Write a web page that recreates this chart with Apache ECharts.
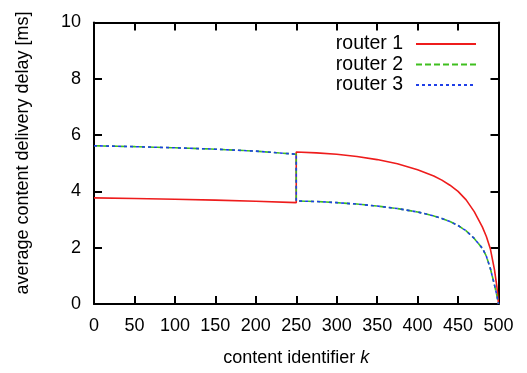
<!DOCTYPE html>
<html>
<head>
<meta charset="utf-8">
<script src="https://cdn.jsdelivr.net/npm/echarts@6/dist/echarts.min.js"></script>
<style>
  html, body { margin: 0; padding: 0; background: #fff; }
  #chart { width: 527px; height: 373px; }
</style>
</head>
<body>
<div id="chart"></div>
<script>
// Content identifiers before and after the split point at k = 250
const kLeft = [0, 50, 100, 150, 200, 250];
const kRight = [250, 275, 300, 325, 350, 375, 400, 420, 430, 440, 450, 460, 470, 480, 485, 490, 495, 498, 500];

// Average delivery delay [ms] per router
const router1Left = [3.77, 3.75, 3.72, 3.69, 3.65, 3.60];
const router1Right = [5.40, 5.37, 5.32, 5.24, 5.13, 4.98, 4.77, 4.55, 4.40, 4.22, 4.00, 3.70, 3.28, 2.74, 2.40, 1.95, 1.22, 0.62, 0];
const router2Left = [5.62, 5.59, 5.55, 5.50, 5.43, 5.32];
const router2Right = [3.66, 3.64, 3.60, 3.55, 3.48, 3.39, 3.27, 3.13, 3.04, 2.93, 2.79, 2.60, 2.33, 1.98, 1.70, 1.25, 0.68, 0.30, 0];
const router3Left = [5.62, 5.59, 5.55, 5.50, 5.43, 5.32];
const router3Right = [3.66, 3.64, 3.60, 3.55, 3.48, 3.39, 3.27, 3.13, 3.04, 2.93, 2.79, 2.60, 2.33, 1.98, 1.70, 1.25, 0.68, 0.30, 0];

const seriesNames = ['router 1', 'router 2', 'router 3'];
const xTicks = { min: 0, max: 500, step: 50 };
const yTicks = { min: 0, max: 10, step: 2 };

function pairs(ks, vs) { return ks.map((k, i) => [k, vs[i]]); }

const FONT = '"Liberation Sans", Arial, Helvetica, sans-serif';
const INK = '#000';

const chart = echarts.init(document.getElementById('chart'), null, { renderer: 'canvas' });

function axisBase(show, margin) {
  return {
    axisLine: { show: true, onZero: false, lineStyle: { color: INK, width: 2 } },
    axisTick: { show: true, inside: true, length: 8, lineStyle: { color: INK, width: 2 } },
    splitLine: { show: false },
    axisLabel: { show: show, margin: margin, color: INK, fontFamily: FONT, fontSize: 18 }
  };
}

const option = {
  animation: false,
  backgroundColor: '#fff',
  textStyle: { fontFamily: FONT },
  grid: { left: 94, right: 28.5, top: 22.5, bottom: 69, containLabel: false },
  legend: {
    data: seriesNames,
    orient: 'vertical',
    right: 45,
    top: 29,
    align: 'right',
    itemWidth: 60,
    itemHeight: 18,
    itemGap: 0.5,
    itemStyle: { opacity: 0 },
    textStyle: { color: INK, fontFamily: FONT, fontSize: 19.5, lineHeight: 18, padding: [0, 8, 0, 0] }
  },
  xAxis: [
    Object.assign(axisBase(true, 13), {
      type: 'value', position: 'bottom',
      min: xTicks.min, max: xTicks.max, interval: xTicks.step,
      name: '{t|content identifier }{i|k}',
      nameLocation: 'middle', nameGap: 45,
      nameTextStyle: {
        rich: {
          t: { fontFamily: FONT, fontSize: 18, color: INK },
          i: { fontFamily: FONT, fontSize: 18, color: INK, fontStyle: 'italic' }
        }
      }
    }),
    Object.assign(axisBase(false, 8), {
      type: 'value', position: 'top',
      min: xTicks.min, max: xTicks.max, interval: xTicks.step
    })
  ],
  yAxis: [
    Object.assign(axisBase(true, 13), {
      type: 'value', position: 'left',
      min: yTicks.min, max: yTicks.max, interval: yTicks.step
    }),
    Object.assign(axisBase(false, 8), {
      type: 'value', position: 'right',
      min: yTicks.min, max: yTicks.max, interval: yTicks.step
    })
  ],
  graphic: [{
    type: 'text',
    x: 23, y: 153,
    rotation: Math.PI / 2,
    style: {
      text: 'average content delivery delay [ms]',
      fontFamily: FONT, fontSize: 18, fill: INK,
      align: 'center', verticalAlign: 'middle'
    }
  }],
  series: [
    {
      name: seriesNames[0], type: 'line', symbol: 'none', smooth: false,
      data: pairs(kLeft, router1Left).concat(pairs(kRight, router1Right)),
      lineStyle: { color: '#ee1c1c', width: 1.6, type: 'solid' },
      itemStyle: { color: '#ee1c1c' }
    },
    {
      name: seriesNames[1], type: 'line', symbol: 'none', smooth: false,
      data: pairs(kLeft, router2Left).concat(pairs(kRight, router2Right)),
      lineStyle: { color: '#3fbf1f', width: 1.6, type: [6, 3] },
      itemStyle: { color: '#3fbf1f' }
    },
    {
      name: seriesNames[2], type: 'line', symbol: 'none', smooth: false,
      data: pairs(kLeft, router3Left).concat(pairs(kRight, router3Right)),
      lineStyle: { color: '#1f3fe8', width: 1.6, type: [3, 3] },
      itemStyle: { color: '#1f3fe8' }
    }
  ]
};

chart.setOption(option);
</script>
</body>
</html>
